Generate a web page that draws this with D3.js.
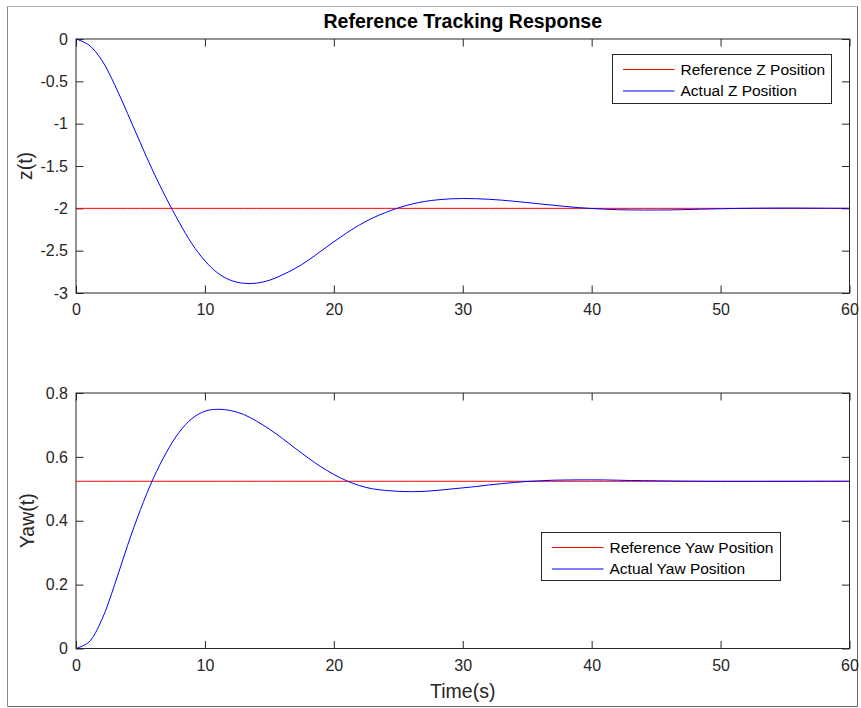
<!DOCTYPE html>
<html>
<head>
<meta charset="utf-8">
<script src="https://cdn.jsdelivr.net/npm/d3@7"></script>
<style>
  html, body { margin: 0; padding: 0; background: #ffffff; }
  svg { display: block; font-family: "Liberation Sans", Arial, Helvetica, sans-serif; }
</style>
</head>
<body>
<svg id="chart" width="861" height="708"></svg>
<script>
// ---------------- data ----------------
const chartTitle = "Reference Tracking Response";
const xLabel = "Time(s)";
const zLabel = "z(t)";
const yawLabel = "Yaw(t)";

const time = [0,1,2,3,4,5,6,7,8,9,10,11,12,13,14,15,16,17,18,19,20,21,22,23,24,25,26,27,28,29,30,
              31,32,33,34,35,36,37,38,39,40,41,42,43,44,45,46,47,48,50,52,55,58,60];

const zActual = [0,-0.07,-0.25,-0.54,-0.88,-1.23,-1.57,-1.88,-2.165,-2.42,-2.62,-2.765,-2.85,-2.885,-2.884,-2.85,-2.787,-2.71,-2.615,-2.505,-2.395,-2.29,-2.195,-2.115,-2.05,-1.995,-1.952,-1.92,-1.9,-1.888,-1.884,
                 -1.886,-1.893,-1.903,-1.917,-1.932,-1.948,-1.963,-1.978,-1.992,-2.002,-2.01,-2.016,-2.019,-2.02,-2.02,-2.019,-2.016,-2.012,-2.005,-2.0,-1.997,-1.999,-2.0];
const zReference = -2;

const yawActual = [0,0.02,0.09,0.2,0.323,0.435,0.533,0.613,0.677,0.72,0.743,0.749,0.745,0.733,0.712,0.687,0.658,0.627,0.597,0.569,0.545,0.525,0.51,0.5,0.495,0.492,0.491,0.492,0.495,0.499,0.503,
                   0.507,0.512,0.516,0.52,0.523,0.525,0.527,0.5275,0.528,0.528,0.5278,0.527,0.526,0.5255,0.525,0.5245,0.524,0.5237,0.5233,0.5232,0.5234,0.5236,0.5236];
const yawReference = 0.5236;

const xTicks = [0,10,20,30,40,50,60];
const zTicks = [-3,-2.5,-2,-1.5,-1,-0.5,0];
const yawTicks = [0,0.2,0.4,0.6,0.8];

const zLegend = ["Reference Z Position", "Actual Z Position"];
const yawLegend = ["Reference Yaw Position", "Actual Yaw Position"];
const seriesColors = ["#ff0000", "#0000ff"];

// ---------------- layout ----------------
const svg = d3.select("#chart");
const axisColor = "#262626";
const left = 76, right = 849.5;
const panels = [
  { top: 39, bottom: 293, domain: [-3, 0], ticks: zTicks, actual: zActual, ref: zReference, label: zLabel, labelX: 25, legend: zLegend,
    legBox: { x: 612.5, y: 54.5, w: 219, h: 49 }, xLabelShow: false },
  { top: 393, bottom: 648.5, domain: [0, 0.8], ticks: yawTicks, actual: yawActual, ref: yawReference, label: yawLabel, labelX: 27, legend: yawLegend,
    legBox: { x: 541.5, y: 532.5, w: 239, h: 48 }, xLabelShow: true }
];

// outer frame
svg.append("line").attr("x1", 7.5).attr("y1", 6.5).attr("x2", 857.5).attr("y2", 6.5).attr("stroke", "#b0b0b0");
svg.append("line").attr("x1", 7.5).attr("y1", 6.5).attr("x2", 7.5).attr("y2", 706.5).attr("stroke", "#8a8a8a");
svg.append("line").attr("x1", 857.5).attr("y1", 6.5).attr("x2", 857.5).attr("y2", 706.5).attr("stroke", "#666");
svg.append("line").attr("x1", 7.5).attr("y1", 706.5).attr("x2", 857.5).attr("y2", 706.5).attr("stroke", "#666");

const x = d3.scaleLinear().domain([0, 60]).range([left, right]);

panels.forEach(p => {
  const y = d3.scaleLinear().domain(p.domain).range([p.bottom, p.top]);
  const g = svg.append("g");

  g.append("rect").attr("x", left).attr("y", p.top).attr("width", right - left).attr("height", p.bottom - p.top).attr("fill", "#fff");

  const fmt = d => String(d);
  const bottomAxis = d3.axisBottom(x).tickValues(xTicks).tickFormat(fmt).tickSizeInner(-7.5).tickSizeOuter(0).tickPadding(11);
  const topAxis = d3.axisTop(x).tickValues(xTicks).tickFormat("").tickSizeInner(-7.5).tickSizeOuter(0);
  const leftAxis = d3.axisLeft(y).tickValues(p.ticks).tickFormat(fmt).tickSizeInner(-7.5).tickSizeOuter(0).tickPadding(8);
  const rightAxis = d3.axisRight(y).tickValues(p.ticks).tickFormat("").tickSizeInner(-7.5).tickSizeOuter(0);

  const axes = [
    g.append("g").attr("transform", `translate(0,${p.bottom})`).call(bottomAxis),
    g.append("g").attr("transform", `translate(0,${p.top})`).call(topAxis),
    g.append("g").attr("transform", `translate(${left},0)`).call(leftAxis),
    g.append("g").attr("transform", `translate(${right},0)`).call(rightAxis)
  ];
  axes.forEach(a => {
    a.select(".domain").remove();
    a.selectAll("line").attr("stroke", axisColor);
    a.selectAll("text").attr("fill", axisColor).style("font-size", "16px").style("font-family", '"Liberation Sans", Arial, sans-serif');
  });

  const line = d3.line().x((d, i) => x(time[i])).y(d => y(d)).curve(d3.curveCatmullRom.alpha(0.5));
  g.append("path").datum(time.map(() => p.ref)).attr("d", line).attr("fill", "none").attr("stroke", seriesColors[0]).attr("stroke-width", 1);
  g.append("path").datum(p.actual).attr("d", line).attr("fill", "none").attr("stroke", seriesColors[1]).attr("stroke-width", 1);

  g.append("rect").attr("x", left).attr("y", p.top).attr("width", right - left).attr("height", p.bottom - p.top)
    .attr("fill", "none").attr("stroke", axisColor).attr("stroke-width", 1);

  g.append("text").attr("transform", `translate(${p.labelX},${(p.top + p.bottom) / 2}) rotate(-90)`)
    .attr("text-anchor", "middle").attr("dy", "0.35em").attr("fill", axisColor).style("font-size", "19.5px").text(p.label);

  const lb = p.legBox;
  const lg = g.append("g");
  lg.append("rect").attr("x", lb.x).attr("y", lb.y).attr("width", lb.w).attr("height", lb.h)
    .attr("fill", "#fff").attr("stroke", axisColor).attr("stroke-width", 1);
  p.legend.forEach((name, i) => {
    const ly = lb.y + 15 + i * 21.5;
    lg.append("line").attr("x1", lb.x + 10.5).attr("x2", lb.x + 62).attr("y1", ly).attr("y2", ly)
      .attr("stroke", seriesColors[i]).attr("stroke-width", 1);
    lg.append("text").attr("x", lb.x + 68).attr("y", ly).attr("dy", "0.35em").attr("fill", "#000")
      .style("font-size", "15.5px").text(name);
  });

  if (p.xLabelShow) {
    g.append("text").attr("x", (left + right) / 2).attr("y", p.bottom + 43).attr("text-anchor", "middle")
      .attr("dy", "0.35em").attr("fill", axisColor).style("font-size", "19.5px").text(xLabel);
  }
});

svg.append("text").attr("x", (left + right) / 2).attr("y", 28).attr("text-anchor", "middle")
  .attr("fill", "#000").style("font-size", "19.5px").style("font-weight", "bold").text(chartTitle);
</script>
</body>
</html>
